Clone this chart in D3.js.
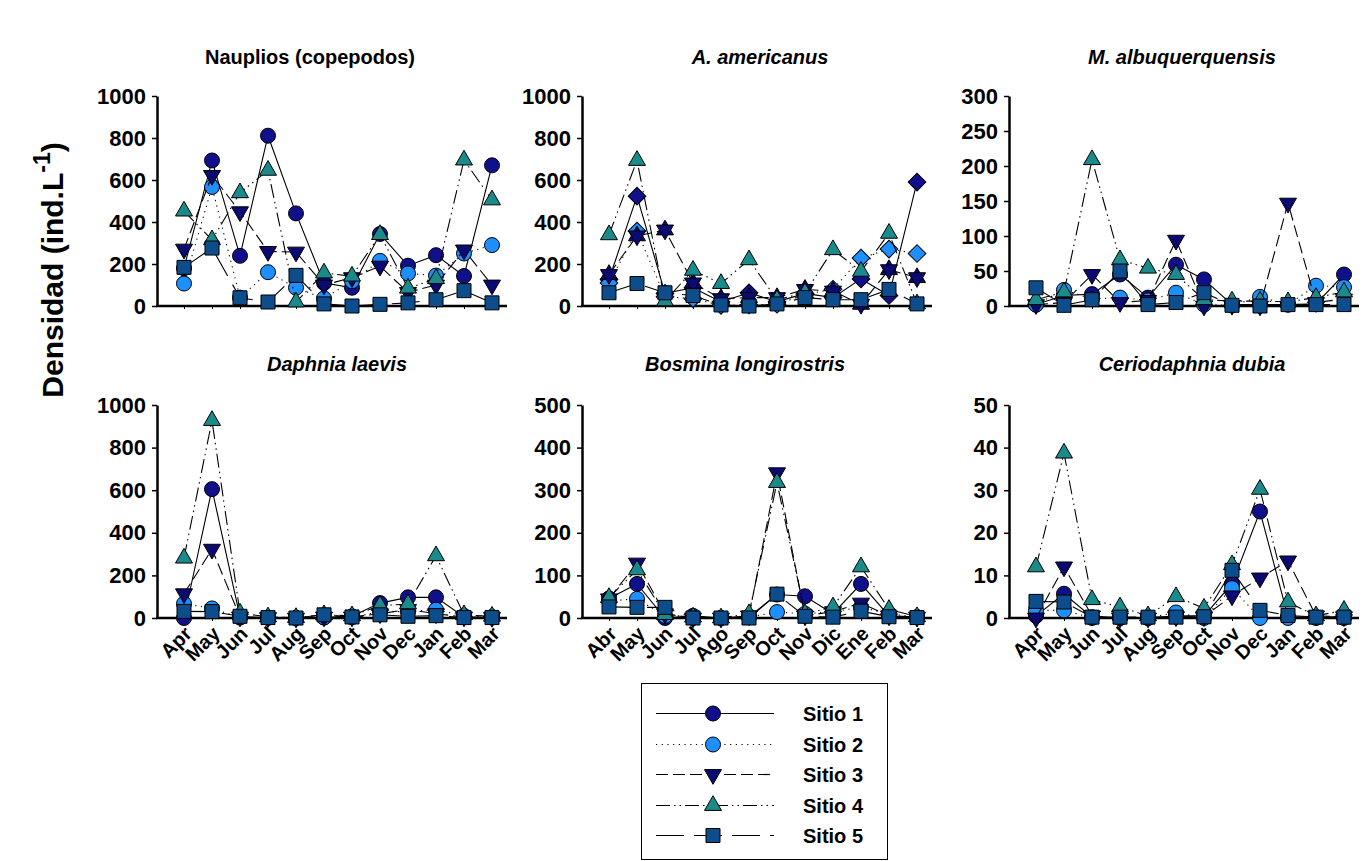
<!DOCTYPE html>
<html>
<head>
<meta charset="utf-8">
<script src="https://cdn.jsdelivr.net/npm/d3@7"></script>
<style>
  body { margin: 0; background: #fff; }
  svg { display: block; font-family: "Liberation Sans", Arial, sans-serif; }
</style>
</head>
<body>
<svg></svg>
<script>
const width = 1365;
const height = 861;

// month labels
const months = ['Apr', 'May', 'Jun', 'Jul', 'Aug', 'Sep', 'Oct', 'Nov', 'Dec', 'Jan', 'Feb', 'Mar'];
const mesesEs = ['Abr', 'May', 'Jun', 'Jul', 'Ago', 'Sep', 'Oct', 'Nov', 'Dic', 'Ene', 'Feb', 'Mar'];
const sites = ['Sitio 1', 'Sitio 2', 'Sitio 3', 'Sitio 4', 'Sitio 5'];

// values per site (Sitio 1..5), Apr..Mar
const nauplios = [
  [180, 693, 239, 811, 441, 110, 87, 343, 192, 242, 143, 670],
  [107, 567, 40, 161, 87, 36, 118, 215, 155, 145, 250, 290],
  [271, 622, 449, 260, 257, 100, 135, 190, 65, 100, 267, 100],
  [452, 315, 539, 646, 19, 157, 142, 340, 85, 130, 695, 505],
  [184, 276, 39, 19, 146, 10, 0, 8, 15, 30, 73, 15]
];
const americanus = [
  [126, 523, 60, 87, 20, 63, 20, 60, 40, 129, 50, 590],
  [110, 357, 44, 35, 3, 5, 8, 55, 80, 228, 271, 250],
  [150, 334, 362, 110, 35, 40, 40, 79, 71, 8, 173, 135],
  [339, 693, 24, 170, 107, 220, 30, 63, 268, 165, 346, 10],
  [63, 107, 63, 50, 5, 0, 10, 40, 30, 30, 79, 10]
];
const albuquerquensis = [
  [2, 15, 17, 45, 12, 59, 38, 2, 2, 2, 3, 45],
  [2, 23, 10, 12, 8, 19, 2, 1, 13, 2, 29, 27],
  [2, 5, 45, 5, 8, 94, 0, 1, 0, 147, 5, 10],
  [9, 20, 209, 66, 54, 45, 9, 7, 7, 6, 12, 20],
  [26, 1, 9, 50, 2, 5, 19, 1, 0, 2, 2, 2]
];
const daphnia = [
  [0, 605, 5, 2, 0, 3, 8, 70, 97, 97, 5, 3],
  [67, 45, 2, 1, 0, 2, 3, 30, 30, 39, 10, 5],
  [114, 323, 5, 2, 0, 5, 5, 20, 40, 20, 5, 3],
  [281, 927, 23, 5, 2, 15, 10, 58, 66, 292, 15, 8],
  [31, 30, 8, 2, 0, 15, 5, 15, 8, 11, 2, 2]
];
const bosmina = [
  [46, 80, 0, 5, 0, 3, 55, 51, 10, 80, 5, 2],
  [40, 45, 5, 0, 0, 2, 14, 10, 15, 25, 10, 2],
  [45, 129, 10, 0, 0, 5, 341, 5, 15, 35, 5, 2],
  [48, 113, 8, 2, 0, 10, 318, 10, 26, 120, 20, 3],
  [26, 25, 25, 0, 0, 0, 56, 4, 2, 16, 3, 1]
];
const ceriodaphnia = [
  [0.5, 5.7, 0.2, 0, 0, 0.5, 0.5, 8, 25, 0.3, 0.2, 0.2],
  [1.8, 1.8, 0, 0, 0, 1.3, 0, 7, 0, 0, 0, 0],
  [0, 12, 0.5, 0, 0, 0.3, 0.3, 5.2, 9.4, 13.4, 0.5, 0.3],
  [12, 38.7, 4.3, 2.6, 0.5, 5, 2.3, 12.5, 30.2, 3.75, 0.5, 1.8],
  [3.9, 3.75, 0.2, 0.2, 0.2, 0.2, 0.3, 11.2, 1.8, 0.6, 0.2, 0.2]
];

const panels = [
  { title: 'Nauplios (copepodos)', italic: false, data: nauplios, max: 1000, step: 200, labels: null, col: 0, row: 0, tx: 153 },
  { title: 'A. americanus', italic: true, data: americanus, max: 1000, step: 200, labels: null, col: 1, row: 0, tx: 178, alt: true },
  { title: 'M. albuquerquensis', italic: true, data: albuquerquensis, max: 300, step: 50, labels: null, col: 2, row: 0, tx: 173 },
  { title: 'Daphnia laevis', italic: true, data: daphnia, max: 1000, step: 200, labels: months, col: 0, row: 1, tx: 180 },
  { title: 'Bosmina longirostris', italic: true, data: bosmina, max: 500, step: 100, labels: mesesEs, col: 1, row: 1, tx: 163 },
  { title: 'Ceriodaphnia dubia', italic: true, data: ceriodaphnia, max: 50, step: 10, labels: months, col: 2, row: 1, tx: 183 }
];

const colX = [157, 582, 1009];
const rowY = [{ top: 96, base: 306, title: 57 }, { top: 405, base: 618, title: 364 }];

const styles = [
  { dash: null, fill: '#10108a', shape: 'circle' },
  { dash: '1.2,4.5', fill: '#1e8fff', shape: 'circle' },
  { dash: '12,5', fill: '#0a0a72', shape: 'down' },
  { dash: '14,4,1.5,4,1.5,4', fill: '#1a8a8a', shape: 'up' },
  { dash: '28,10', fill: '#0e4d8c', shape: 'square' }
];
// A. americanus panel uses other symbols
const altShapes = ['diamond', 'diamond', 'star', 'up', 'square'];

const svg = d3.select('svg')
  .attr('width', width)
  .attr('height', height);

const sym = {
  circle: d3.symbol().type(d3.symbolCircle).size(Math.PI * 7.5 * 7.5),
  square: d3.symbol().type(d3.symbolSquare).size(14 * 14),
  diamond: d3.symbol().type(d3.symbolSquare).size(12.5 * 12.5),
  tri: d3.symbol().type(d3.symbolTriangle).size(125)
};

function drawMarker(g, shape, fill, cx, cy) {
  const parts = [];
  if (shape === 'circle') parts.push([sym.circle(), 0]);
  if (shape === 'square') parts.push([sym.square(), 0]);
  if (shape === 'diamond') parts.push([sym.diamond(), 45]);
  if (shape === 'up') parts.push([sym.tri(), 0]);
  if (shape === 'down') parts.push([sym.tri(), 180]);
  if (shape === 'star') { parts.push([sym.tri(), 0]); parts.push([sym.tri(), 180]); }
  parts.forEach(([d, rot]) => {
    g.append('path')
      .attr('d', d)
      .attr('transform', `translate(${cx},${cy}) rotate(${rot})`)
      .attr('fill', fill)
      .attr('stroke', '#000')
      .attr('stroke-width', 1);
  });
}

panels.forEach(p => {
  const x0 = colX[p.col];
  const r = rowY[p.row];
  const g = svg.append('g');

  const x = d3.scaleLinear().domain([0, 11]).range([x0 + 27, x0 + 27 + 28 * 11]);
  const y = d3.scaleLinear().domain([0, p.max]).range([r.base, r.top]);

  // title
  g.append('text')
    .attr('x', x0 + p.tx)
    .attr('y', r.title)
    .attr('text-anchor', 'middle')
    .attr('dominant-baseline', 'central')
    .style('font-size', '20px')
    .style('font-weight', 'bold')
    .style('font-style', p.italic ? 'italic' : 'normal')
    .text(p.title);

  // y axis
  const yAxis = g.append('g')
    .attr('transform', `translate(${x0},0)`)
    .call(d3.axisLeft(y)
      .tickValues(d3.range(0, p.max + 1, p.step))
      .tickFormat(d3.format('d'))
      .tickSize(5)
      .tickSizeOuter(0)
      .tickPadding(6));
  yAxis.select('.domain').attr('stroke-width', 2.5);
  yAxis.selectAll('.tick line').attr('stroke-width', 1.5);
  yAxis.selectAll('.tick text')
    .style('font-size', '22px')
    .style('font-weight', 'bold')
    .style('font-family', '"Liberation Sans", Arial, sans-serif')
    .attr('fill', '#000');

  // x axis
  const xAxis = g.append('g')
    .attr('transform', `translate(0,${r.base})`)
    .call(d3.axisBottom(x)
      .tickValues(d3.range(12))
      .tickSize(3)
      .tickFormat(''));
  xAxis.select('.domain').remove();
  xAxis.append('line')
    .attr('x1', x0 - 1)
    .attr('x2', x0 + 350)
    .attr('stroke', '#000')
    .attr('stroke-width', 2.5);

  if (p.labels) {
    g.selectAll('.mlabel')
      .data(p.labels)
      .enter()
      .append('text')
        .attr('class', 'mlabel')
        .attr('text-anchor', 'end')
        .attr('transform', (d, i) => `translate(${x(i) + 9},${r.base + 17}) rotate(-45)`)
        .style('font-size', '20px')
        .style('font-weight', 'bold')
        .text(d => d);
  }

  const line = d3.line()
    .x((d, i) => x(i))
    .y(d => y(d));

  p.data.forEach((vals, s) => {
    const st = styles[s];
    g.append('path')
      .datum(vals)
      .attr('d', line)
      .attr('fill', 'none')
      .attr('stroke', '#000')
      .attr('stroke-width', 1.1)
      .attr('stroke-dasharray', st.dash);
    const shape = p.alt ? altShapes[s] : st.shape;
    vals.forEach((v, i) => drawMarker(g, shape, st.fill, x(i), y(v)));
  });
});

// y title
const yTitle = svg.append('text')
  .attr('transform', 'translate(63,270) rotate(-90)')
  .attr('text-anchor', 'middle')
  .style('font-size', '30px')
  .style('font-weight', 'bold');
yTitle.append('tspan').text('Densidad (ind.L');
yTitle.append('tspan').attr('dy', -13).style('font-size', '23px').text('-1');
yTitle.append('tspan').attr('dy', 13).text(')');

// legend
const legend = svg.append('g');
legend.append('rect')
  .attr('x', 641.5)
  .attr('y', 683.5)
  .attr('width', 246)
  .attr('height', 176)
  .attr('fill', '#fff')
  .attr('stroke', '#000')
  .attr('stroke-width', 1);

const ly = d3.scalePoint().domain(sites).range([713, 835]);
sites.forEach((name, s) => {
  const st = styles[s];
  const yy = Math.round(ly(name)) + 0.5;
  legend.append('line')
    .attr('x1', 656)
    .attr('x2', 774)
    .attr('y1', yy)
    .attr('y2', yy)
    .attr('stroke', '#000')
    .attr('stroke-width', 1.2)
    .attr('stroke-dasharray', st.dash);
  drawMarker(legend, st.shape, st.fill, 713, yy);
  legend.append('text')
    .attr('x', 803)
    .attr('y', yy)
    .attr('dominant-baseline', 'central')
    .style('font-size', '20px')
    .style('font-weight', 'bold')
    .text(name);
});
</script>
</body>
</html>
